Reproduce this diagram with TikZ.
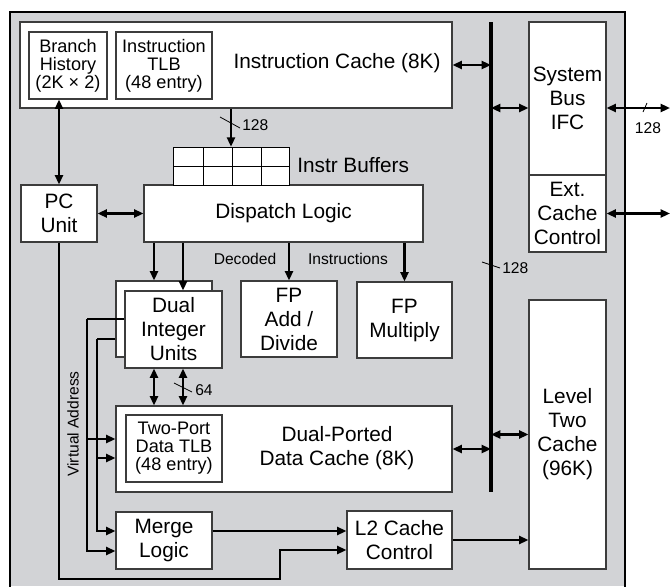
\documentclass[tikz,border=0pt]{standalone}
\usepackage{fontspec}
\setmainfont{Liberation Sans}
\usetikzlibrary{arrows.meta}
\definecolor{chipgray}{RGB}{210,211,214}
\definecolor{edgegray}{RGB}{60,60,60}
\begin{document}
\begin{tikzpicture}[x=0.75pt,y=-0.75pt,
  blk/.style={draw=edgegray,fill=white,line width=0.8pt,inner sep=0pt,align=center,
    font=\fontsize{15.6}{18}\selectfont},
  sz/.style 2 args={minimum width={#1*0.75pt},minimum height={#2*0.75pt}},
  smalltxt/.style={font=\fontsize{13.6}{13.6}\selectfont},
  bigtxt/.style={font=\fontsize{15.6}{18}\selectfont,inner sep=0pt,align=center},
  lbl/.style={font=\fontsize{11.7}{13}\selectfont,inner sep=0pt},
  wire/.style={line width=1.6pt},
  conn/.style={line width=1.6pt,-{Triangle[length=7pt,width=6pt]}},
  biconn/.style={line width=1.6pt,{Triangle[length=7pt,width=6pt]}-{Triangle[length=7pt,width=6pt]}},
  busline/.style={line width=2.4pt},
  slash/.style={line width=0.6pt},
  cell/.style={draw=black,fill=white,line width=0.7pt}
  ]
\useasboundingbox (0,0) rectangle (671,586);
% chip outline
\fill[chipgray] (10,12) rectangle (625,586);
\draw[line width=2.2pt] (10,590) -- (10,12) -- (625,12) -- (625,590);

% blocks
\node[blk,sz={432}{86}] (ic) at (236,65) {};
\node[bigtxt] (ictxt) at (337,63) {Instruction Cache (8K)};
\node[blk,smalltxt,sz={78}{67}] (bh) at (68,65.5) {Branch\\History\\(2K × 2)};
\node[blk,smalltxt,sz={96}{67}] (itlb) at (164,65.5) {Instruction\\TLB\\(48 entry)};

\node[blk,sz={77}{153}] (sys) at (567.5,98.5) {System\\Bus\\IFC};
\node[blk,sz={77}{77}] (ext) at (567.5,213.5) {Ext.\\Cache\\Control};
\node[blk,sz={77}{269}] (l2) at (567.5,434.5) {Level\\Two\\Cache\\(96K)};

\node[blk,sz={76}{57}] (pc) at (59,213.5) {PC\\Unit};
\node[blk,sz={279}{57}] (disp) at (283.5,213.5) {Dispatch Logic};

% instruction buffers
\node[inner sep=0pt,sz={116}{38}] (buf) at (231,166) {};
\foreach \xa/\xb in {173/203,203/232,232/261,261/289}{
  \draw[cell] (\xa,147) rectangle (\xb,166);
  \draw[cell] (\xa,166) rectangle (\xb,185);
}
\node[bigtxt,anchor=west] (buftxt) at (297,165) {Instr Buffers};

\node[blk,sz={96}{76}] (intb) at (164,319) {};
\node[blk,sz={97}{77}] (intf) at (173.5,329.5) {Dual\\Integer\\Units};
\node[blk,sz={96}{76}] (fpa) at (289,319) {FP\\Add /\\Divide};
\node[blk,sz={95}{76}] (fpm) at (404.5,320) {FP\\Multiply};

\node[blk,sz={336}{86}] (dc) at (284,449) {};
\node[bigtxt] (dctxt) at (337,448) {Dual-Ported\\Data Cache (8K)};
\node[blk,smalltxt,sz={96}{67}] (dtlb) at (174,448.5) {Two-Port\\Data TLB\\(48 entry)};

\node[blk,sz={96}{57}] (merge) at (164,540.5) {Merge\\Logic};
\node[blk,sz={105}{58}] (l2c) at (399.5,540) {L2 Cache\\Control};

% labels
\node[lbl] (dec) at (245,259) {Decoded};
\node[lbl] (ins) at (348,259) {Instructions};
\node[lbl,rotate=90] (va) at (73,424) {Virtual Address};

% helper coordinates
\coordinate (bt) at (491,22);
\coordinate (bb) at (491,492);
\coordinate (ys) at (0,108);
\coordinate (outA) at (670,108);
\coordinate (outB) at (670,213);
\coordinate (xa) at (154,0);
\coordinate (xb) at (183,0);
\coordinate (vo) at (87,319);
\coordinate (vi) at (97,339);
\coordinate (ya) at (0,439);
\coordinate (yb) at (0,458);
\coordinate (yc) at (0,531);
\coordinate (yd) at (0,551);
\coordinate (ye) at (0,579);
\coordinate (yf) at (0,550);
\coordinate (xk) at (280,0);

% bus
\draw[busline] (bt) -- (bb);
\draw[biconn] (ic.east) -- (ic.east -| bt);
\draw[biconn] (bt |- ys) -- (sys.west |- ys);
\draw[biconn] (sys.east |- outA) -- (outA);
\draw[biconn] (ext.east) -- (ext.east -| outB);
\draw[biconn] (dc.east) -- (dc.east -| bt);
\draw[biconn] (bt |- l2.west) -- (l2.west);

% top section
\draw[biconn] (pc.north |- bh.south) -- (pc.north);
\draw[biconn] (pc.east) -- (disp.west);
\draw[conn] (buf.north |- ic.south) -- (buf.north);

% dispatch outputs
\draw[conn] (disp.south -| xa) -- (intb.north -| xa);
\draw[conn] (disp.south -| xb) -- (intf.north -| xb);
\draw[conn] (disp.south -| fpa.north) -- (fpa.north);
\draw[conn] (disp.south -| fpm.north) -- (fpm.north);

% integer <-> data cache
\draw[biconn] (intf.south -| xa) -- (dc.north -| xa);
\draw[biconn] (intf.south -| xb) -- (dc.north -| xb);

% virtual address lines
\draw[wire] (intf.west |- vo) -- (vo);
\draw[conn] (vo) |- (merge.west |- yd);
\draw[conn] (vo |- ya) -- (dc.west |- ya);
\draw[wire] (intb.west |- vi) -- (vi);
\draw[conn] (vi) |- (merge.west |- yc);
\draw[conn] (vi |- yb) -- (dc.west |- yb);

% bottom
\draw[conn] (merge.east |- yc) -- (l2c.west |- yc);
\draw[conn] (pc.south) |- (xk |- ye) -- (xk |- yf) -- (l2c.west |- yf);
\draw[conn] (l2c.east) -- (l2.west |- l2c.east);

% width marks
\draw[slash] (220,117) -- (240,128);
\node[lbl,anchor=west] (w1) at (242,125) {128};
\draw[slash] (174,383) -- (192,392);
\node[lbl,anchor=west] (w2) at (195,390) {64};
\draw[slash] (482,262) -- (500,268);
\node[lbl,anchor=west] (w3) at (502,268) {128};
\draw[slash] (643,112) -- (647,103);
\node[lbl] (w4) at (648,128) {128};
\end{tikzpicture}
\end{document}
